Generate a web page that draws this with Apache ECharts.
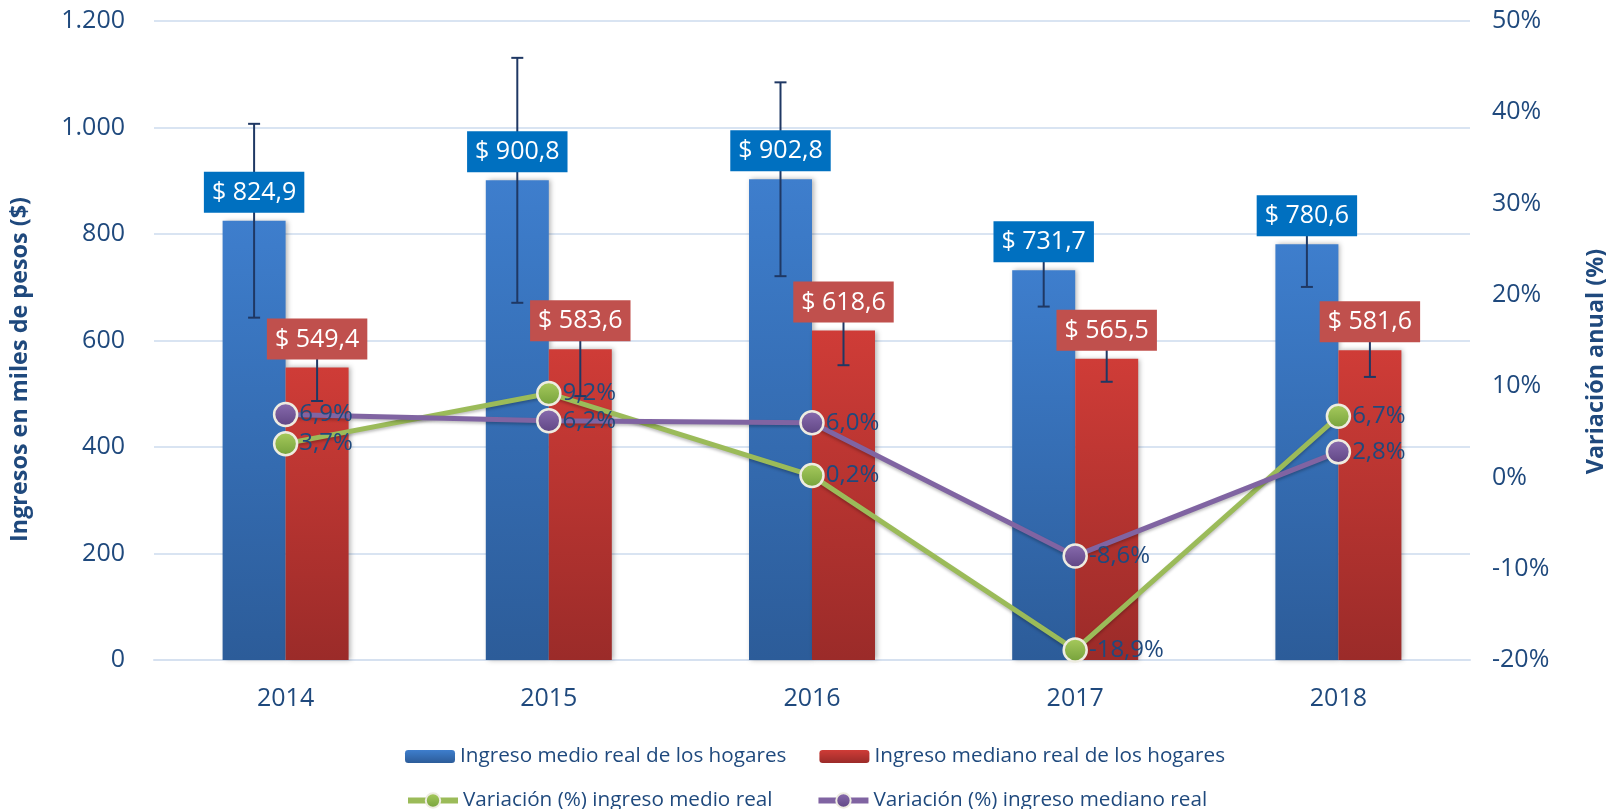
<!DOCTYPE html>
<html>
<head>
<meta charset="utf-8">
<title>Ingreso real de los hogares</title>
<script src="https://cdn.jsdelivr.net/npm/echarts@6/dist/echarts.min.js"></script>
<style>
  html, body { margin: 0; padding: 0; background: #fff; }
  #chart { width: 1606px; height: 809px; }
</style>
</head>
<body>
<div id="chart"></div>
<script>
// datos del gráfico
var anios = ['2014', '2015', '2016', '2017', '2018'];
var ingresoMedio = [824.9, 900.8, 902.8, 731.7, 780.6];
var ingresoMediano = [549.4, 583.6, 618.6, 565.5, 581.6];
// margen de error (estimado de las barras de error)
var errorMedio = [182, 230, 182, 68, 80];
var errorMediano = [63, 88, 65, 43, 50];
var varMedio = [3.7, 9.2, 0.2, -18.9, 6.7];
var varMediano = [6.9, 6.2, 6.0, -8.6, 2.8];
var ticksIzq = [0, 1200, 200];
var ticksDer = [-20, 50, 10];

var FONT = '"Open Sans", "Noto Sans", sans-serif';
var AZUL_TXT = '#1F497D';
var ANCHO_BARRA = 63;

var chart = echarts.init(document.getElementById('chart'));

function coma(v) {
    return v.toFixed(1).replace('.', ',');
}
function miles(v) {
    return String(v).replace(/\B(?=(\d{3})+(?!\d))/g, '.');
}

// barras de error + etiqueta en caja
function errorSerie(nombre, valores, errores, desplazamiento, colorCaja) {
    return {
        name: nombre,
        type: 'custom',
        yAxisIndex: 0,
        z: 3,
        data: valores.map(function (v, i) { return [i, v, errores[i]]; }),
        encode: { x: 0, y: 1 },
        renderItem: function (params, api) {
            var i = api.value(0), v = api.value(1), e = api.value(2);
            var c = api.coord([i, v]);
            var arriba = api.coord([i, v + e]);
            var abajo = api.coord([i, v - e]);
            var x = c[0] + desplazamiento;
            var estilo = { stroke: '#1F3864', lineWidth: 2 };
            return {
                type: 'group',
                children: [
                    { type: 'line', shape: { x1: x, y1: arriba[1], x2: x, y2: abajo[1] }, style: estilo },
                    { type: 'line', shape: { x1: x - 6, y1: arriba[1], x2: x + 6, y2: arriba[1] }, style: estilo },
                    { type: 'line', shape: { x1: x - 6, y1: abajo[1], x2: x + 6, y2: abajo[1] }, style: estilo },
                    {
                        type: 'text',
                        z2: 10,
                        style: {
                            text: '$ ' + coma(v),
                            x: x,
                            y: c[1] - 8,
                            align: 'center',
                            verticalAlign: 'bottom',
                            fill: '#fff',
                            font: '25px ' + FONT,
                            lineHeight: 30,
                            backgroundColor: colorCaja,
                            padding: [6, 8, 5, 8]
                        }
                    }
                ]
            };
        }
    };
}

function grad(a, b) {
    return new echarts.graphic.LinearGradient(0, 0, 0, 1, [
        { offset: 0, color: a },
        { offset: 1, color: b }
    ]);
}

var option = {
    backgroundColor: '#fff',
    textStyle: { fontFamily: FONT },
    grid: { left: 154, right: 136, top: 21, bottom: 149, outerBoundsMode: 'none' },
    legend: [
        {
            data: ['Ingreso medio real de los hogares', 'Ingreso mediano real de los hogares'],
            left: 400,
            top: 741,
            itemWidth: 50,
            itemHeight: 13,
            itemGap: 33,
            textStyle: { fontSize: 20.7, color: AZUL_TXT, fontFamily: FONT }
        },
        {
            data: ['Variación (%) ingreso medio real', 'Variación (%) ingreso mediano real'],
            left: 400,
            top: 785,
            itemWidth: 50,
            itemHeight: 18,
            itemGap: 43,
            lineStyle: { width: 6 },
            itemStyle: { borderColor: '#EEECE1', borderWidth: 2 },
            textStyle: { fontSize: 20.7, color: AZUL_TXT, fontFamily: FONT }
        }
    ],
    xAxis: {
        type: 'category',
        data: anios,
        axisLine: { lineStyle: { color: '#D6E1F0', width: 2 } },
        axisTick: { show: false },
        axisLabel: { fontSize: 25, color: AZUL_TXT, margin: 26 }
    },
    yAxis: [
        {
            type: 'value',
            min: ticksIzq[0], max: ticksIzq[1], interval: ticksIzq[2],
            name: 'Ingresos en miles de pesos ($)',
            nameLocation: 'middle',
            nameRotate: 90,
            nameGap: 122,
            nameTextStyle: { fontSize: 23.4, fontWeight: 'bold', color: AZUL_TXT, padding: [0, 58, 0, 0] },
            axisLine: { show: false },
            axisTick: { show: false },
            axisLabel: { fontSize: 25, color: AZUL_TXT, margin: 29, formatter: function (v) { return miles(v); } },
            splitLine: { lineStyle: { color: '#D9E4F2', width: 2 } }
        },
        {
            type: 'value',
            min: ticksDer[0], max: ticksDer[1], interval: ticksDer[2],
            name: 'Variación anual (%)',
            nameLocation: 'middle',
            nameRotate: 90,
            nameGap: 115,
            nameTextStyle: { fontSize: 23.4, fontWeight: 'bold', color: AZUL_TXT, padding: [0, 42, 0, 0] },
            axisLine: { show: false },
            axisTick: { show: false },
            axisLabel: { fontSize: 25, color: AZUL_TXT, margin: 22, formatter: '{value}%' },
            splitLine: { show: false }
        }
    ],
    series: [
        {
            name: 'Ingreso medio real de los hogares',
            type: 'bar',
            barWidth: ANCHO_BARRA,
            barGap: '0%',
            z: 2,
            data: ingresoMedio,
            itemStyle: {
                color: grad('#3E7ECD', '#2C5C99'),
                shadowBlur: 5, shadowOffsetX: 2, shadowColor: 'rgba(0,0,0,0.3)'
            }
        },
        {
            name: 'Ingreso mediano real de los hogares',
            type: 'bar',
            barWidth: ANCHO_BARRA,
            barGap: '0%',
            z: 2,
            data: ingresoMediano,
            itemStyle: {
                color: grad('#CF3C37', '#9B2B29'),
                shadowBlur: 5, shadowOffsetX: 2, shadowColor: 'rgba(0,0,0,0.3)'
            }
        },
        errorSerie('errorMedio', ingresoMedio, errorMedio, -ANCHO_BARRA / 2, '#0070C0'),
        errorSerie('errorMediano', ingresoMediano, errorMediano, ANCHO_BARRA / 2, '#C0504D'),
        {
            name: 'Variación (%) ingreso medio real',
            type: 'line',
            yAxisIndex: 1,
            z: 4,
            data: varMedio,
            symbol: 'circle',
            symbolSize: 23,
            lineStyle: { color: '#9BBB59', width: 5, shadowBlur: 3, shadowOffsetY: 2, shadowColor: 'rgba(0,0,0,0.25)' },
            itemStyle: { color: grad('#A9CC5E', '#74A03A'), borderColor: '#EEECE1', borderWidth: 2.5 },
            label: {
                show: true, position: 'right', distance: 1,
                fontSize: 24, color: AZUL_TXT,
                formatter: function (p) { return coma(p.value) + '%'; }
            }
        },
        {
            name: 'Variación (%) ingreso mediano real',
            type: 'line',
            yAxisIndex: 1,
            z: 4,
            data: varMediano,
            symbol: 'circle',
            symbolSize: 23,
            lineStyle: { color: '#8064A2', width: 5, shadowBlur: 3, shadowOffsetY: 2, shadowColor: 'rgba(0,0,0,0.25)' },
            itemStyle: { color: grad('#8A6DB0', '#5E4482'), borderColor: '#EEECE1', borderWidth: 2.5 },
            label: {
                show: true, position: 'right', distance: 1,
                fontSize: 24, color: AZUL_TXT,
                formatter: function (p) { return coma(p.value) + '%'; }
            }
        }
    ]
};

chart.setOption(option);
</script>
</body>
</html>
